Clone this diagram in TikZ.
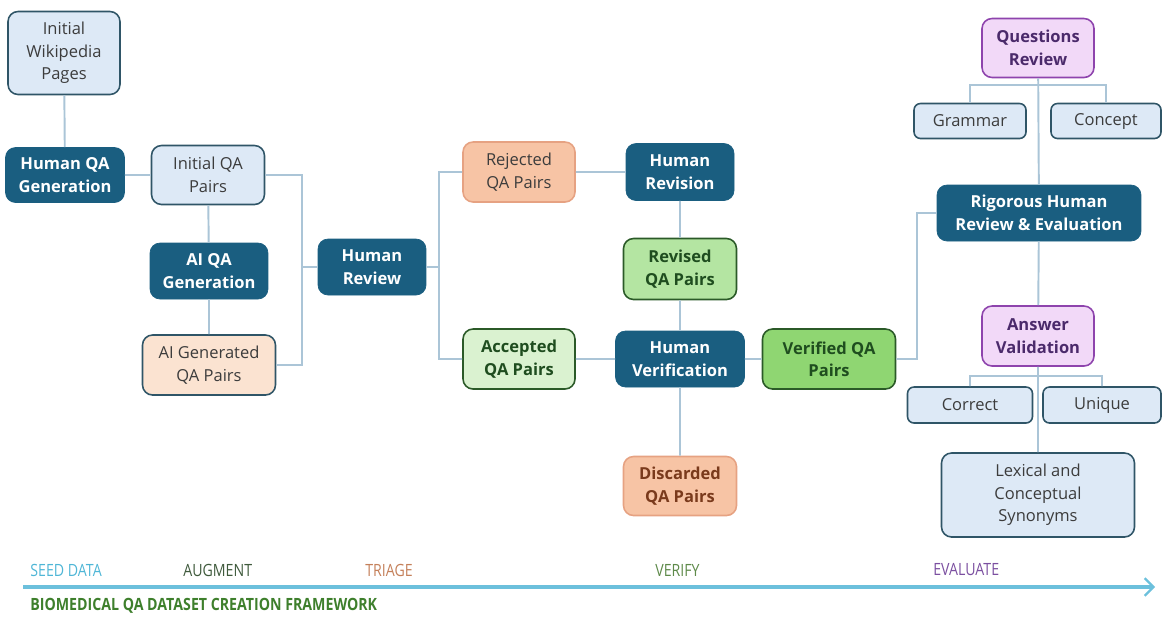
\documentclass[tikz,border=0pt]{standalone}
\usepackage{fontspec}
\setmainfont{Open Sans}
\newfontfamily\narrowfont[FakeStretch=0.84]{Open Sans}
\usetikzlibrary{arrows.meta}
\definecolor{darkteal}{HTML}{1A5E80}
\definecolor{paleblue}{HTML}{DDE9F6}
\definecolor{edgeslate}{HTML}{2F5567}
\definecolor{greytext}{HTML}{3C3C3C}
\definecolor{peachpale}{HTML}{FBE3D1}
\definecolor{peach}{HTML}{F7C4A5}
\definecolor{peachedge}{HTML}{E6A282}
\definecolor{browntext}{HTML}{7A3A1C}
\definecolor{revfill}{HTML}{B4E5A2}
\definecolor{accfill}{HTML}{DAF2D0}
\definecolor{verfill}{HTML}{8FD672}
\definecolor{greenedge}{HTML}{2B5A28}
\definecolor{greentext}{HTML}{1F4D1F}
\definecolor{lilac}{HTML}{F2D9F8}
\definecolor{lilacedge}{HTML}{8E44AD}
\definecolor{purpletext}{HTML}{4B2A6B}
\definecolor{linkblue}{HTML}{ABC5D7}
\definecolor{axisblue}{HTML}{6CC0DC}
\definecolor{seedcol}{HTML}{4FB6D6}
\definecolor{augcol}{HTML}{3F5A3C}
\definecolor{triagecol}{HTML}{C4805A}
\definecolor{verifycol}{HTML}{5E8A4A}
\definecolor{evalcol}{HTML}{7B4FA0}
\definecolor{titlecol}{HTML}{3E7F2C}
\tikzstyle{every node}=[align=center,inner sep=2pt,font=\fontsize{9.4}{12.8}\selectfont]
\tikzstyle{darkbox}=[rectangle,rounded corners=0.2cm,fill=darkteal,draw=darkteal,text=white,font=\fontsize{9.4}{12.8}\selectfont\bfseries]
\tikzstyle{palebox}=[rectangle,rounded corners=0.2cm,fill=paleblue,draw=edgeslate,line width=0.9pt,text=greytext]
\tikzstyle{tagbox}=[palebox,rounded corners=0.13cm]
\tikzstyle{peachbox}=[rectangle,rounded corners=0.2cm,fill=peachpale,draw=edgeslate,line width=0.9pt,text=greytext]
\tikzstyle{rejectbox}=[rectangle,rounded corners=0.2cm,fill=peach,draw=peachedge,line width=0.9pt,text=greytext]
\tikzstyle{okbox}=[rectangle,rounded corners=0.2cm,draw=greenedge,line width=0.9pt,text=greentext,font=\fontsize{9.4}{12.8}\selectfont\bfseries]
\tikzstyle{purplebox}=[rectangle,rounded corners=0.2cm,fill=lilac,draw=lilacedge,line width=0.9pt,text=purpletext,font=\fontsize{9.4}{12.8}\selectfont\bfseries]
\tikzstyle{link}=[draw=linkblue,line width=1.1pt]
\tikzstyle{stage}=[anchor=west,inner sep=0pt,font=\narrowfont\fontsize{9.6}{11}\selectfont]

\begin{document}
\begin{tikzpicture}[x=0.02cm,y=-0.02cm]
\useasboundingbox (0,0) rectangle (1162,616);
% seed and augment
\node[palebox,minimum width=2.24cm,minimum height=1.66cm] (wiki) at (64,53) {Initial\\Wikipedia\\Pages};
\node[darkbox,minimum width=2.38cm,minimum height=1.1cm] (hqa) at (65,175) {Human QA\\Generation};
\node[palebox,minimum width=2.26cm,minimum height=1.18cm] (iqa) at (208,175) {Initial QA\\Pairs};
\node[darkbox,minimum width=2.36cm,minimum height=1.12cm] (aiqa) at (209,271) {AI QA\\Generation};
\node[peachbox,minimum width=2.66cm,minimum height=1.2cm] (aigen) at (209,365) {AI Generated\\QA Pairs};
% triage
\node[darkbox,minimum width=2.16cm,minimum height=1.12cm] (hrev) at (372,267) {Human\\Review};
\node[rejectbox,minimum width=2.24cm,minimum height=1.2cm] (rej) at (519,172) {Rejected\\QA Pairs};
\node[okbox,fill=accfill,minimum width=2.24cm,minimum height=1.2cm] (acc) at (519,359) {Accepted\\QA Pairs};
% verify
\node[darkbox,minimum width=2.16cm,minimum height=1.14cm] (hrevi) at (680,172) {Human\\Revision};
\node[okbox,fill=revfill,minimum width=2.26cm,minimum height=1.22cm] (revd) at (680,269) {Revised\\QA Pairs};
\node[darkbox,minimum width=2.58cm,minimum height=1.12cm] (hver) at (680,359) {Human\\Verification};
\node[okbox,fill=verfill,minimum width=2.66cm,minimum height=1.2cm] (verd) at (829,359) {Verified QA\\Pairs};
\node[rejectbox,text=browntext,font=\fontsize{9.4}{12.8}\selectfont\bfseries,minimum width=2.26cm,minimum height=1.18cm] (disc) at (680,486) {Discarded\\QA Pairs};
% evaluate
\node[purplebox,minimum width=2.24cm,minimum height=1.18cm] (qrev) at (1038,48) {Questions\\Review};
\node[tagbox,minimum width=2.24cm,minimum height=0.7cm] (gram) at (970,121) {Grammar};
\node[tagbox,minimum width=2.2cm,minimum height=0.7cm] (conc) at (1106,121) {Concept};
\node[darkbox,minimum width=4.08cm,minimum height=1.12cm] (rig) at (1039,213) {Rigorous Human\\Review \& Evaluation};
\node[purplebox,minimum width=2.24cm,minimum height=1.2cm] (ansv) at (1038,336) {Answer\\Validation};
\node[tagbox,minimum width=2.5cm,minimum height=0.72cm] (corr) at (970,405) {Correct};
\node[tagbox,minimum width=2.36cm,minimum height=0.72cm] (uniq) at (1102,405) {Unique};
\node[palebox,minimum width=3.86cm,minimum height=1.68cm] (lex) at (1038,495) {Lexical and\\Conceptual\\Synonyms};
\coordinate (j1) at (302,267);
\coordinate (j2) at (439,267);
\coordinate (j3) at (917,213);
\coordinate (j4) at (1038,85);
\coordinate (j5) at (1038,376);
% connectors
\draw[link] (wiki) -- (hqa) (hqa) -- (iqa) (iqa) -- (aiqa) (aiqa) -- (aigen)
	(iqa.east) -| (j1) |- (aigen.east) (j1) -- (hrev.west)
	(hrev.east) -- (j2) (j2) |- (rej.west) (j2) |- (acc.west)
	(rej) -- (hrevi) (hrevi) -- (revd) (revd) -- (hver)
	(acc) -- (hver) (hver) -- (verd) (hver) -- (disc)
	(verd.east) -| (j3) -- (rig.west)
	(qrev) -- (rig) (gram.north) |- (j4) -| (conc.north)
	(rig) -- (ansv) (ansv) -- (lex) (corr.north) |- (j5) -| (uniq.north);
% timeline
\coordinate (axs) at (23,587);
\coordinate (axe) at (1155,587);
\draw[axisblue,line width=1.8pt,-{Straight Barb[length=5pt,width=10pt,line width=1.3pt]}] (axs) -- (axe);
\node[stage,text=seedcol] (seed) at (30,570) {SEED DATA};
\node[stage,text=augcol] (aug) at (183,570) {AUGMENT};
\node[stage,text=triagecol] (tri) at (365,570) {TRIAGE};
\node[stage,text=verifycol] (ver) at (655,570) {VERIFY};
\node[stage,text=evalcol] (eval) at (933,570) {EVALUATE};
\node[stage,text=titlecol,font=\narrowfont\fontsize{9.6}{11}\selectfont\bfseries] (title) at (30,606) {BIOMEDICAL QA DATASET CREATION FRAMEWORK};
\end{tikzpicture}
\end{document}
